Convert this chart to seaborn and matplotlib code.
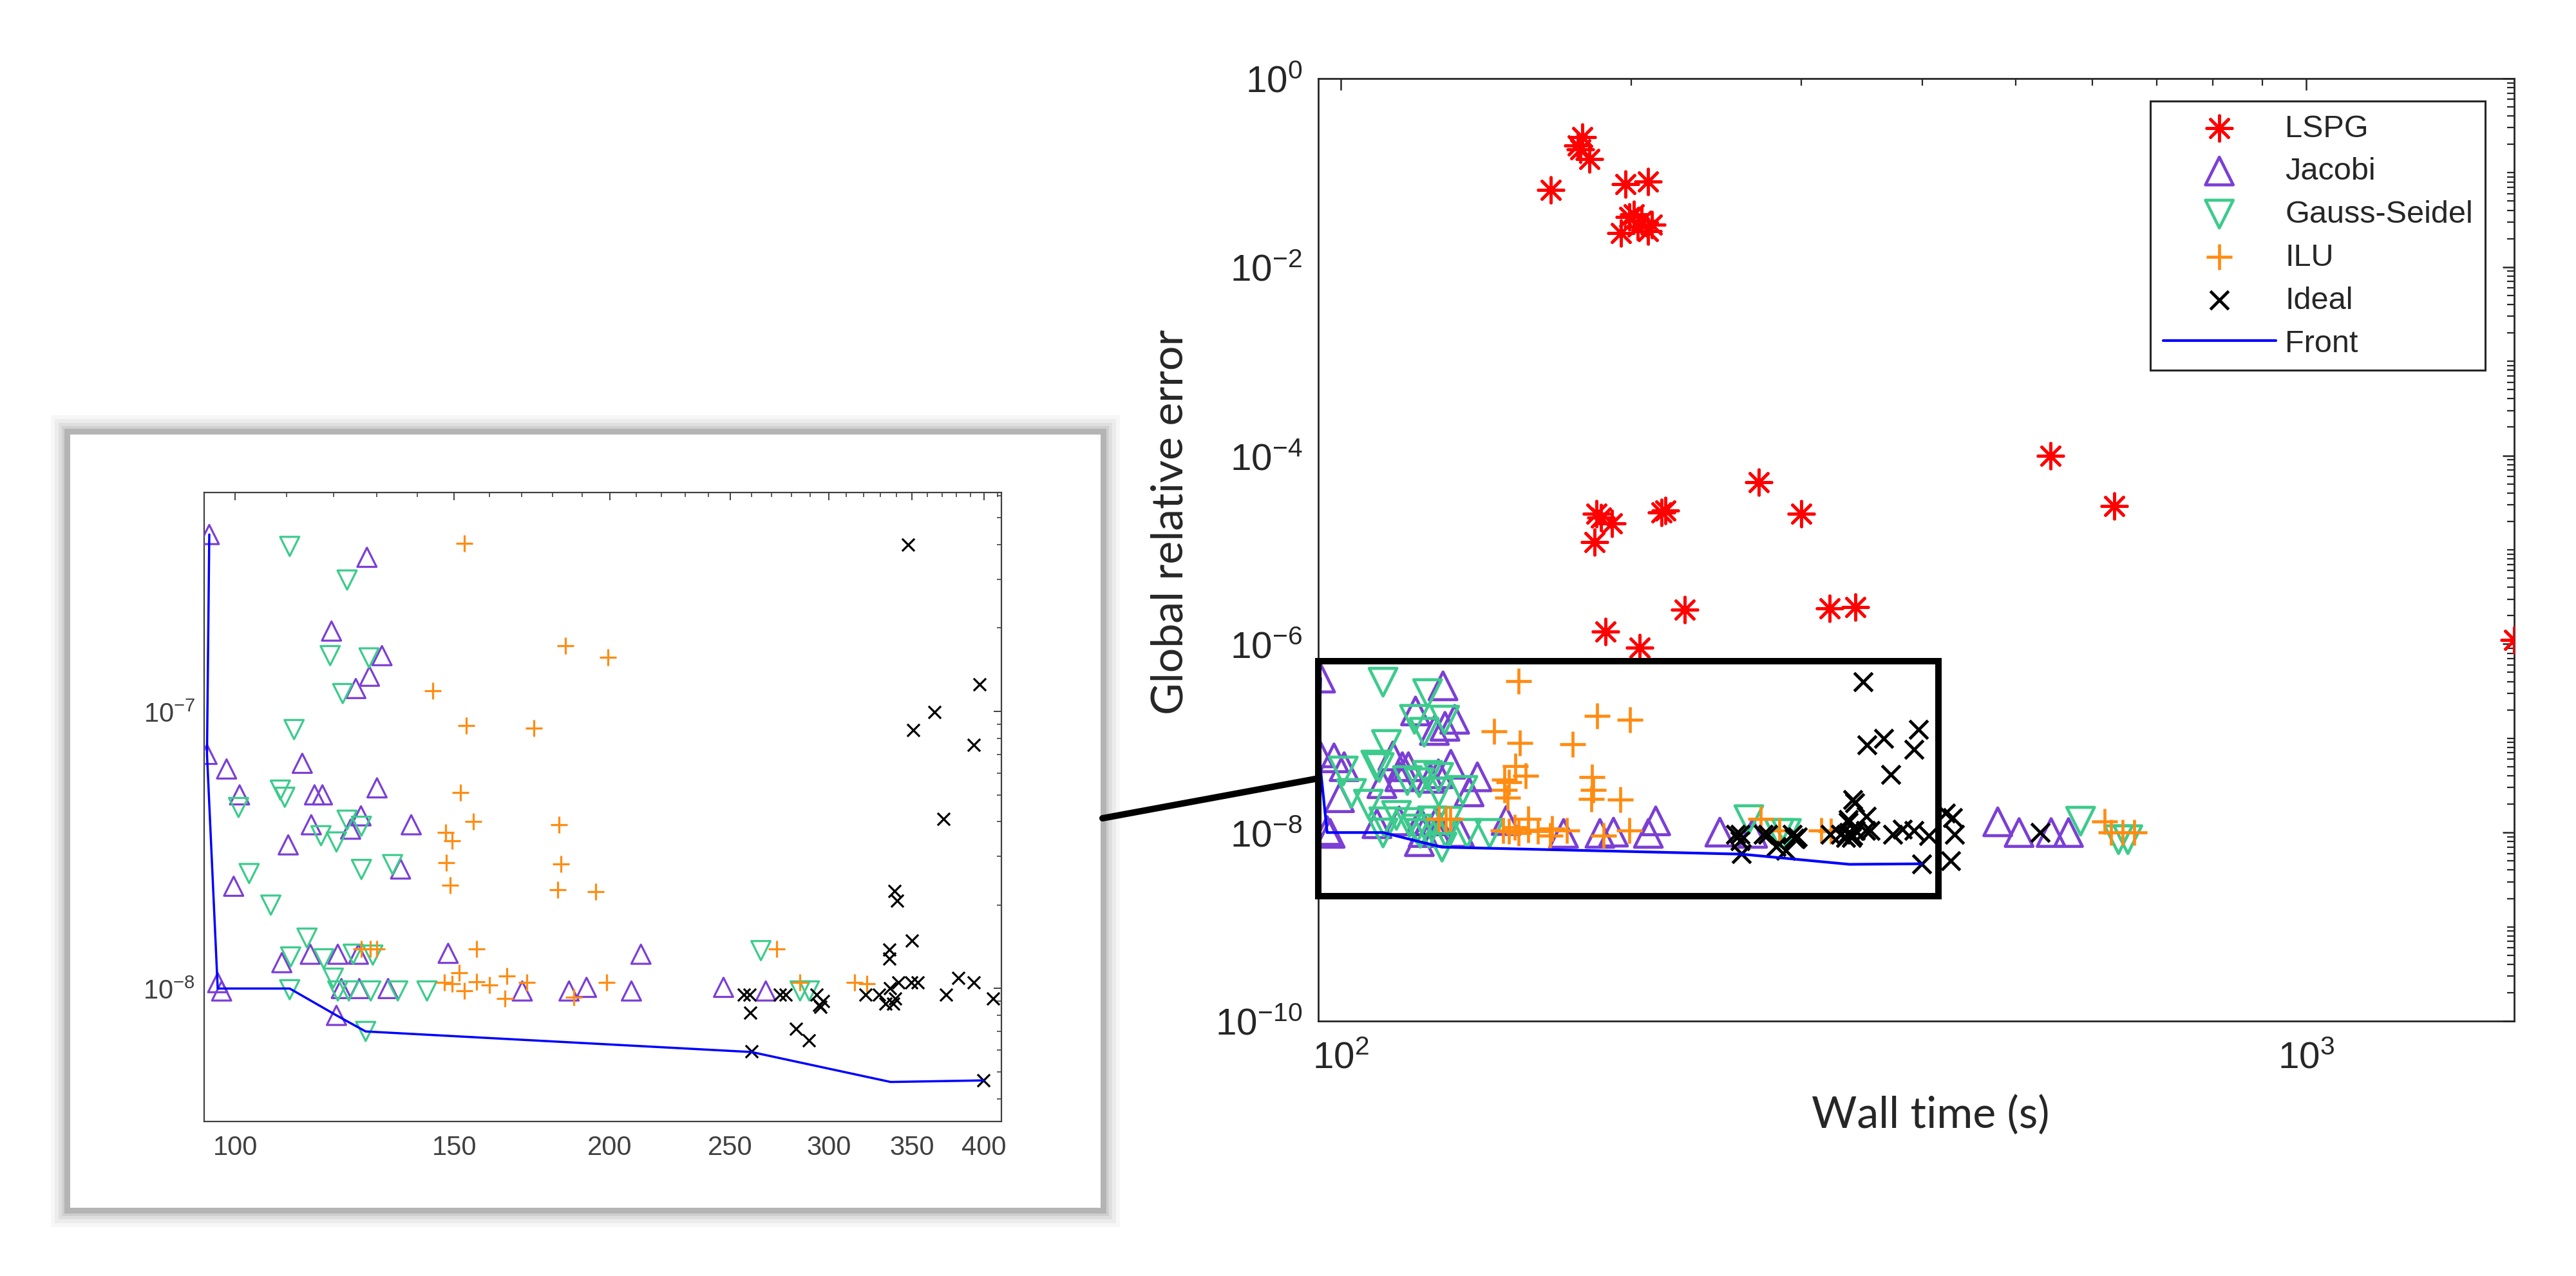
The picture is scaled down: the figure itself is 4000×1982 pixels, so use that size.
import numpy as np
import pandas as pd
import matplotlib
matplotlib.use("Agg")
import matplotlib.pyplot as plt
from matplotlib.patches import Rectangle, ConnectionPatch
from matplotlib.ticker import FixedLocator, FixedFormatter, LogLocator, NullFormatter, LogFormatterSciNotation
import seaborn as sns

# ---- data (wall time in s, global relative error) ----
lspg_time = [165, 176, 178, 177, 181, 197, 208, 199, 201, 203, 195, 208, 210, 205,
             184, 186, 191, 183, 215, 217, 271, 300, 543, 632, 188, 204, 227, 321, 341, 1640]
lspg_err = [6.6e-2, 0.195, 0.238, 0.177, 0.139, 7.6e-2, 8.1e-2, 3.4e-2, 3.6e-2, 2.7e-2, 2.3e-2, 2.4e-2, 2.8e-2, 3.1e-2,
            2.4e-5, 2.2e-5, 1.9e-5, 1.2e-5, 2.5e-5, 2.6e-5, 5.2e-5, 2.4e-5, 1.0e-4, 2.9e-5, 1.35e-6, 9.1e-7, 2.3e-6, 2.4e-6, 2.45e-6, 1.1e-6]

jacobi_time = [95.3, 94.9, 98.4, 100.8, 96.8, 97.5, 99.7, 113.2, 110.3, 109.0, 115.1, 115.8, 117.5, 114.9, 119.5,
               131.2, 127.6, 128.2, 125.0, 130.0, 126.2, 123.8, 135.8, 138.5, 120.9, 125.6, 121.7, 125.8, 132.7,
               120.6, 148.3, 170.1, 185.5, 191.6, 208.2, 211.9, 246.9, 267.0, 479, 504, 544, 567]
jacobi_err = [4.35e-7, 7.0e-8, 6.2e-8, 5.0e-8, 1.05e-8, 9.8e-9, 2.34e-8, 6.5e-8, 3.3e-8, 1.24e-8, 3.9e-8, 5.0e-8, 5.0e-8, 1.33e-8, 1.95e-7,
              1.59e-7, 3.6e-7, 1.34e-7, 1.21e-7, 5.3e-8, 4.2e-8, 3.76e-8, 2.7e-8, 3.9e-8, 1.33e-8, 1.33e-8, 1.0e-8, 1.0e-8, 1.0e-8,
              8.0e-9, 1.34e-8, 9.8e-9, 9.8e-9, 1.01e-8, 9.8e-9, 1.33e-8, 1.01e-8, 9.8e-9, 1.3e-8, 1.0e-8, 1.0e-8, 1.0e-8]

gs_time = [110.6, 123.0, 119.2, 128.1, 122.0, 111.5, 108.7, 109.6, 100.6, 102.6, 106.8, 117.2, 120.6, 123.0, 126.3,
           126.3, 133.8, 114.2, 110.8, 117.8, 119.9, 110.6, 120.9, 123.4, 128.5, 124.4, 129.0, 135.1, 142.6, 127.3,
           264.6, 284.5, 289.4, 583.6, 638.8, 653.2]
gs_err = [3.94e-7, 2.98e-7, 1.59e-7, 1.56e-7, 1.16e-7, 8.6e-8, 5.2e-8, 4.9e-8, 4.5e-8, 2.6e-8, 2.0e-8, 3.56e-8, 3.38e-8, 4.05e-8, 3.85e-8,
          2.69e-8, 2.8e-8, 1.52e-8, 1.3e-8, 1.28e-8, 1.09e-8, 9.9e-9, 9.8e-9, 9.8e-9, 9.8e-9, 1.33e-8, 1.32e-8, 9.8e-9, 9.8e-9, 7.0e-9,
          1.37e-8, 9.8e-9, 9.8e-9, 1.32e-8, 8.4e-9, 8.4e-9]

ilu_time = [152.8, 184.2, 199.3, 144.2, 153.3, 173.8, 151.7, 155.3, 182.1, 147.6, 149.3, 147.8, 182.7, 148.8, 181.7,
            194.8, 156.4, 126.3, 128.4, 129.9, 147.3, 151.4, 149.3, 152.8, 156.4, 160.1, 165.4, 164.8, 171.5, 187.1,
            198.9, 272.3, 284.5, 314.6, 322.0, 617.6, 627.5, 645.0, 663.6]
ilu_err = [4.04e-7, 1.73e-7, 1.57e-7, 1.19e-7, 8.9e-8, 8.7e-8, 5.1e-8, 4.0e-8, 3.9e-8, 3.66e-8, 3.41e-8, 2.85e-8, 2.81e-8, 2.36e-8, 2.27e-8,
           2.24e-8, 1.39e-8, 1.39e-8, 1.39e-8, 1.39e-8, 1.05e-8, 1.14e-8, 1.04e-8, 9.8e-9, 1.06e-8, 1.03e-8, 1.11e-8, 9.2e-9, 1.05e-8, 9.3e-9,
           1.05e-8, 1.39e-8, 1.05e-8, 1.05e-8, 1.04e-8, 1.32e-8, 1.0e-8, 1.0e-8, 1.0e-8]

ideal_time = [347.5, 396.4, 364.8, 350.7, 392.3, 371.1, 338.8, 340.4, 349.9, 335.6, 335.6, 256.4, 259.0, 259.3, 260.0,
              273.9, 277.0, 282.5, 289.1, 293.5, 296.9, 294.8, 295.5, 321.2, 329.4, 333.2, 335.9, 339.1, 337.9, 341.2,
              349.7, 353.6, 372.8, 381.5, 392.3, 406.6, 399.6, 423, 430, 432, 428, 530]
ideal_err = [4.0e-7, 1.25e-7, 9.96e-8, 8.57e-8, 7.57e-8, 4.1e-8, 2.25e-8, 2.07e-8, 1.49e-8, 1.38e-8, 1.28e-8, 9.5e-9, 9.5e-9, 8.2e-9, 5.93e-9,
             9.5e-9, 9.5e-9, 7.15e-9, 6.5e-9, 9.5e-9, 9.0e-9, 8.7e-9, 8.6e-9, 9.5e-9, 9.5e-9, 8.8e-9, 1.0e-8, 9.2e-9, 8.8e-9, 1.05e-8,
             1.05e-8, 1.05e-8, 9.5e-9, 1.09e-8, 1.05e-8, 9.2e-9, 4.66e-9, 1.6e-8, 1.45e-8, 9.5e-9, 5.0e-9, 1.0e-8]

front_time = [95.3, 94.9, 96.8, 110.6, 120.6, 127.3, 260.0, 336.4, 399.6]
front_err = [4.35e-7, 7.0e-8, 1.0e-8, 1.0e-8, 8.0e-9, 7.0e-9, 5.9e-9, 4.6e-9, 4.66e-9]

main_yticks = [1e-10, 1e-8, 1e-6, 1e-4, 1e-2, 1e0]
main_xticks = [1e2, 1e3]
inset_xticks = [100, 150, 200, 250, 300, 350, 400]
inset_xticklabels = ["100", "150", "200", "250", "300", "350", "400"]
inset_yticks = [1e-8, 1e-7]

# zoom window shown by the inset
zoom_x = (94.8, 416)
zoom_y = (10 ** -8.675, 10 ** -6.18)

frames = []
for name, t, e in [("LSPG", lspg_time, lspg_err), ("Jacobi", jacobi_time, jacobi_err),
                   ("Gauss-Seidel", gs_time, gs_err), ("ILU", ilu_time, ilu_err),
                   ("Ideal", ideal_time, ideal_err)]:
    frames.append(pd.DataFrame({"method": name, "time": t, "error": e}))
df = pd.concat(frames, ignore_index=True)
front = pd.DataFrame({"time": front_time, "error": front_err})

styles = {
    "LSPG": dict(marker=(8, 2, 0), color="#ff0000"),
    "Jacobi": dict(marker="^", color="#7b3fd4", hollow=True),
    "Gauss-Seidel": dict(marker="v", color="#3ccb8c", hollow=True),
    "ILU": dict(marker="+", color="#ff8c12"),
    "Ideal": dict(marker="x", color="#000000"),
}

sns.set_style("white")
plt.rcParams["font.family"] = ["Liberation Sans", "DejaVu Sans"]
plt.rcParams["mathtext.default"] = "regular"
plt.rcParams["axes.unicode_minus"] = False

fig = plt.figure(figsize=(20, 9.915), dpi=200)
ax = fig.add_axes([0.5118, 0.1997, 0.4643, 0.7383])
axin = fig.add_axes([0.07925, 0.1210, 0.3095, 0.4927])


def draw_series(a, big):
    a.set_xscale("log")
    a.set_yscale("log")
    sizes = {"^": 240, "v": 240, "+": 200, "x": 105} if big else {"^": 115, "v": 115, "+": 85, "x": 48}
    lw = 1.7 if big else 1.15
    for name, st in styles.items():
        sub = df[df["method"] == name]
        m = st["marker"]
        kw = dict(marker=m, s=sizes.get(m, 200), linewidth=lw, label=name, ax=a, legend=False, zorder=3)
        if st.get("hollow"):
            kw.update(color=st["color"], facecolor="none", edgecolor=st["color"])
        else:
            kw.update(color=st["color"])
        sns.scatterplot(data=sub, x="time", y="error", **kw)
    sns.lineplot(data=front, x="time", y="error", sort=False, estimator=None, color="#0000ff",
                 linewidth=1.5 if big else 1.25, label="Front", ax=a, legend=False, zorder=4)
    a.set_xlabel("")
    a.set_ylabel("")


draw_series(ax, True)
draw_series(axin, False)

# ---- main axes ----
ax.set_xlim(94.8, 1642)
ax.set_ylim(1e-10, 1)
ax.yaxis.set_major_locator(FixedLocator(main_yticks))
ax.yaxis.set_major_formatter(LogFormatterSciNotation())
ax.yaxis.set_minor_locator(LogLocator(base=10, subs=np.arange(1, 10), numticks=40))
ax.yaxis.set_minor_formatter(NullFormatter())
ax.xaxis.set_major_locator(FixedLocator(main_xticks))
ax.xaxis.set_major_formatter(LogFormatterSciNotation())
ax.xaxis.set_minor_locator(LogLocator(base=10, subs=np.arange(2, 10), numticks=40))
ax.xaxis.set_minor_formatter(NullFormatter())
ax.tick_params(which="major", direction="in", length=6.5, width=0.9, top=True, right=True,
               labelsize=21, colors="#262626", pad=9)
ax.tick_params(which="minor", direction="in", length=4, width=0.8, top=True, right=True, colors="#262626")
ax.tick_params(axis="x", which="major", pad=11)
for sp in ax.spines.values():
    sp.set_visible(True)
    sp.set_color("#262626")
    sp.set_linewidth(1.0)

ax.set_xlabel("Wall time (s)", family=["Lato", "DejaVu Sans"], fontsize=24.5)
ax.set_ylabel("Global relative error", family=["Lato", "DejaVu Sans"], fontsize=24.5)
ax.xaxis.set_label_coords(0.5116, -0.078)
ax.yaxis.set_label_coords(-0.107, 0.53)

handles, labels = ax.get_legend_handles_labels()
leg = ax.legend(handles, labels, loc="upper right", bbox_to_anchor=(0.9758, 0.976), borderaxespad=0,
                fontsize=17.5, frameon=True, fancybox=False, edgecolor="#262626", framealpha=1,
                handlelength=3.6, handletextpad=0.3, labelspacing=0.45, borderpad=0.4)
leg.get_frame().set_linewidth(1.1)

ax.add_patch(Rectangle((zoom_x[0], zoom_y[0]), zoom_x[1] - zoom_x[0], zoom_y[1] - zoom_y[0],
                       fill=False, edgecolor="black", linewidth=3.6, clip_on=False, zorder=6))

# ---- inset axes ----
axin.set_xlim(94.4, 413)
axin.set_ylim(10 ** -8.48, 10 ** -6.21)
axin.xaxis.set_major_locator(FixedLocator(inset_xticks))
axin.xaxis.set_major_formatter(FixedFormatter(inset_xticklabels))
axin.xaxis.set_minor_locator(FixedLocator(np.arange(100, 420, 10)))
axin.xaxis.set_minor_formatter(NullFormatter())
axin.yaxis.set_major_locator(FixedLocator(inset_yticks))
axin.yaxis.set_major_formatter(LogFormatterSciNotation())
axin.yaxis.set_minor_locator(LogLocator(base=10, subs=np.arange(2, 10), numticks=20))
axin.yaxis.set_minor_formatter(NullFormatter())
axin.tick_params(which="major", direction="in", length=4.3, width=0.7, top=True, right=True,
                 labelsize=15, colors="#404040", pad=7)
axin.tick_params(which="minor", direction="in", length=2.5, width=0.6, top=True, right=True, colors="#404040")
axin.tick_params(axis="y", which="major", pad=5)
for sp in axin.spines.values():
    sp.set_visible(True)
    sp.set_color("#404040")
    sp.set_linewidth(0.8)

# ---- inset panel with soft shadow (figure pixels -> fraction) ----
W, H = 4000.0, 1983.0
px0, py0, px1, py1 = 109, 676, 1709, 1877
for grow, shade in [(30, "#f7f7f7"), (24, "#ececec"), (18, "#dfdfdf"), (13, "#cfcfcf"), (9, "#b4b4b4")]:
    fig.add_artist(Rectangle(((px0 - grow) / W, 1 - (py1 + grow) / H),
                             (px1 - px0 + 2 * grow) / W, (py1 - py0 + 2 * grow) / H,
                             transform=fig.transFigure, facecolor=shade, edgecolor="none", zorder=-3))
fig.add_artist(Rectangle((px0 / W, 1 - py1 / H), (px1 - px0) / W, (py1 - py0) / H,
                         transform=fig.transFigure, facecolor="white", edgecolor="none", zorder=-2))

# connector from the inset panel to the zoom box
con = ConnectionPatch(xyA=(1712 / W, 1 - 1272 / H), coordsA=fig.transFigure,
                      xyB=(zoom_x[0], 10 ** -7.425), coordsB=ax.transData,
                      color="black", linewidth=3.6, zorder=7)
fig.add_artist(con)

fig.savefig("out.png", dpi=200)
